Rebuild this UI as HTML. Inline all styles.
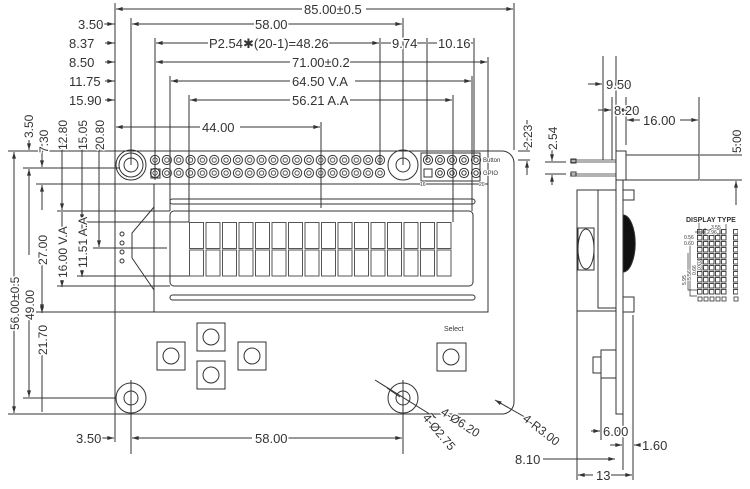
<!DOCTYPE html>
<html><head><meta charset="utf-8"><style>
html,body{margin:0;padding:0;background:#fff;width:750px;height:489px;overflow:hidden}
svg{display:block}
text{font-family:"Liberation Sans",sans-serif;fill:#333;stroke:#fff;stroke-width:3px;paint-order:stroke;stroke-linejoin:round}
.s text{stroke-width:1.5px}
</style></head><body>
<svg width="750" height="489" viewBox="0 0 750 489" xmlns="http://www.w3.org/2000/svg">
<defs>
<marker id="a" viewBox="0 0 10 6" refX="10" refY="3" markerWidth="8" markerHeight="4" orient="auto-start-reverse"><path d="M0,0L10,3L0,6z" fill="#333"/></marker>
<pattern id="pins" x="149.1" y="153" width="11.84" height="27" patternUnits="userSpaceOnUse">
<circle cx="5.92" cy="7" r="4.6" fill="none" stroke="#333" stroke-width="1"/><circle cx="5.92" cy="7" r="2.2" fill="none" stroke="#333" stroke-width="0.8"/>
<circle cx="5.92" cy="20" r="4.6" fill="none" stroke="#333" stroke-width="1"/><circle cx="5.92" cy="20" r="2.2" fill="none" stroke="#333" stroke-width="0.8"/>
</pattern>
<pattern id="chars" x="189" y="222" width="16.5" height="27.5" patternUnits="userSpaceOnUse">
<rect x="0.5" y="0.5" width="14" height="26" fill="none" stroke="#555" stroke-width="1"/>
</pattern>
<pattern id="dots" x="697" y="229" width="6" height="6" patternUnits="userSpaceOnUse">
<rect x="0.5" y="0.5" width="4.5" height="4.5" fill="none" stroke="#333" stroke-width="0.9"/>
</pattern>
</defs>
<g stroke="#333" stroke-width="1" fill="none">
<path d="M115,3V442 M8,151H502 A12,12 0 0 1 514,163V402 A12,12 0 0 1 502,414H8"/>
<line x1="514" y1="3" x2="514" y2="150"/>
<circle cx="131" cy="165" r="15"/><circle cx="131" cy="165" r="7"/>
<circle cx="131" cy="165" r="12"/>
<circle cx="403" cy="165" r="15"/><circle cx="403" cy="165" r="7"/>
<circle cx="131" cy="398" r="15"/><circle cx="131" cy="398" r="7"/>
<circle cx="403" cy="398" r="15"/><circle cx="403" cy="398" r="7"/>
<rect x="149" y="153" width="237" height="27" fill="url(#pins)" stroke="none"/>
<rect x="151" y="169" width="9" height="9"/>
<rect x="421" y="153" width="59" height="28"/>
<g>
<circle cx="428" cy="160" r="4.6"/><circle cx="440" cy="160" r="4.6"/><circle cx="452" cy="160" r="4.6"/><circle cx="464" cy="160" r="4.6"/><circle cx="476" cy="160" r="4.6"/>
<circle cx="440" cy="173" r="4.6"/><circle cx="452" cy="173" r="4.6"/><circle cx="464" cy="173" r="4.6"/><circle cx="476" cy="173" r="4.6"/>
<circle cx="440" cy="173" r="2.2"/><circle cx="452" cy="173" r="2.2"/><circle cx="464" cy="173" r="2.2"/><circle cx="476" cy="173" r="2.2"/>
<circle cx="428" cy="160" r="2.2"/><circle cx="440" cy="160" r="2.2"/><circle cx="452" cy="160" r="2.2"/><circle cx="464" cy="160" r="2.2"/><circle cx="476" cy="160" r="2.2"/>
<rect x="424" y="169" width="8" height="8"/>
</g>
<path d="M154,184H488V312H36 M154,184V312"/>
<rect x="170" y="199" width="305" height="5" rx="2.5"/>
<rect x="170" y="295" width="305" height="5" rx="2.5"/>
<rect x="170" y="211" width="303" height="75" rx="4"/>
<rect x="189" y="222" width="264" height="55" fill="url(#chars)" stroke="none"/>
<path d="M154,207L132,233V258L154,290"/>
<circle cx="122" cy="234" r="2"/><circle cx="122" cy="243" r="2"/><circle cx="122" cy="252" r="2"/><circle cx="122" cy="261" r="2"/>
<rect x="197" y="323" width="28" height="28"/><circle cx="211" cy="337" r="8"/>
<rect x="157" y="342" width="28" height="28"/><circle cx="171" cy="356" r="8"/>
<rect x="197" y="361" width="28" height="28"/><circle cx="211" cy="375" r="8"/>
<rect x="238" y="342" width="28" height="28"/><circle cx="252" cy="356" r="8"/>
<rect x="437" y="343" width="29" height="28"/><circle cx="451" cy="357" r="8"/>
<path d="M131,18V165 M155,38V180 M155,58V180 M170,76V211 M189,95V222 M321,122V208 M380,38V165 M403,18V165 M427,38V160 M474,38V160 M488,57V184 M472,76V211 M453,95V222"/>
<g marker-end="url(#a)">
<path d="M302,9H116"/><path d="M366,9H513"/>
<path d="M95,24H114"/><path d="M254,24H132"/><path d="M284,24H402"/>
<path d="M105,43H114"/><path d="M208,43H156"/><path d="M327,43H379"/>
<path d="M105,62H114"/><path d="M290,62H156"/><path d="M348,62H487"/>
<path d="M105,81H114"/><path d="M290,81H171"/><path d="M355,81H471"/>
<path d="M105,100H114"/><path d="M290,100H190"/><path d="M350,100H452"/>
<path d="M200,127H116"/><path d="M240,127H320"/>
<path d="M90,438H114"/><path d="M252,438H132"/><path d="M284,438H402"/>
</g>
<path d="M115,24H108 M115,43H106 M115,62H106 M115,81H106 M115,100H106"/>
<path d="M131,380V454 M403,380V454"/>
<path d="M381,43H391 M414,43H426 M428,43H437 M464,43H473"/>
<path d="M23,168H120 M36,184H154 M57,211H170 M77,222H189 M93,248H167 M77,276H189 M57,286H170 M23,398H116"/>
<g marker-end="url(#a)">
<path d="M14,290V152"/><path d="M14,330V413"/>
<path d="M29,255V169"/><path d="M29,320V397"/>
<path d="M42,210V185"/><path d="M42,265V311"/>
<path d="M42,290V313"/>
<path d="M62,140V210"/><path d="M62,280V287"/>
<path d="M82,140V221"/><path d="M82,270V277"/>
<path d="M99,140V247"/>
<path d="M29,140V150"/><path d="M42,140V167"/>
</g>
<path d="M42,355V412"/>
<path d="M62,212V230 M82,223V234"/>
<path d="M518,151H530 M518,160H530"/>
<path d="M527,120V150" marker-end="url(#a)"/><path d="M527,175V161" marker-end="url(#a)"/>
<path d="M375,380L436,418" marker-end="url(#a)"/>
<path d="M387,388L400,397"/>
<path d="M530,420L495,400" marker-end="url(#a)"/>
<rect x="616" y="151" width="10" height="29"/>
<rect x="626" y="155" width="73" height="25"/>
<path d="M570,162H616 M570,174H616 M570,160H616 M570,176H616" stroke-width="0.8"/>
<rect x="571" y="159" width="5" height="4"/><rect x="571" y="172" width="5" height="4"/>
<path d="M616,180V414H623V180 M577,190H616V311H577Z"/>
<rect x="598" y="190" width="18" height="118"/>
<rect x="623" y="190" width="11" height="10"/><rect x="623" y="297" width="11" height="15"/>
<path d="M623,215A12,28 0 0 1 623,272Z" fill="#111"/>
<rect x="578" y="228" width="16" height="42"/><ellipse cx="586" cy="249" rx="8" ry="20"/>
<path d="M577,311V480 M633,315V480 M623,414V470"/>
<rect x="593" y="357" width="8" height="16"/><rect x="601" y="350" width="15" height="28"/>
<path d="M601,378V440"/>
<path d="M603,56V160 M616,56V160 M612,97V160 M626,97V145 M699,97V155"/>
<g marker-end="url(#a)">
<path d="M588,84H602"/><path d="M632,84H615"/>
<path d="M598,110H611"/><path d="M640,110H617"/>
<path d="M640,120H627"/><path d="M680,120H698"/>
<path d="M591,431H600"/><path d="M620,431H615"/>
<path d="M543,459H615"/><path d="M593,475H578"/><path d="M611,475H632"/>
<path d="M610,445H622"/><path d="M640,445H634"/>
<path d="M552,150V161"/><path d="M552,185V175"/>
<path d="M736,130V154"/><path d="M736,205V181"/>
</g>
<path d="M566,162H560 M566,174H560 M545,162H560 M545,174H560"/>
<path d="M700,155H742 M700,180H742"/>
<rect x="697" y="229" width="30" height="66" fill="url(#dots)" stroke="none"/>
<rect x="733" y="229" width="5" height="66" fill="url(#dots)" stroke="none"/>
<path d="M699,233V222 M726,233V224 M705,233V228 M695,232H705" stroke-width="0.7"/>
<path d="M690,238V296H697 M688,253V290H697" stroke-width="0.7"/>
<rect x="698" y="297" width="4" height="4" stroke-width="0.8"/>
<rect x="704" y="297" width="4" height="4" stroke-width="0.8"/>
<rect x="710" y="297" width="4" height="4" stroke-width="0.8"/>
<rect x="716" y="297" width="4" height="4" stroke-width="0.8"/>
<rect x="722" y="297" width="4" height="4" stroke-width="0.8"/>
<rect x="734" y="297" width="4" height="4" stroke-width="0.8"/>
</g>
<g font-size="13">
<text x="304" y="14">85.00±0.5</text>
<text x="78" y="29">3.50</text>
<text x="255" y="29">58.00</text>
<text x="69" y="48">8.37</text>
<text x="209" y="48">P2.54✱(20-1)=48.26</text>
<text x="392" y="48">9.74</text>
<text x="438" y="48">10.16</text>
<text x="69" y="67">8.50</text>
<text x="292" y="67">71.00±0.2</text>
<text x="69" y="86">11.75</text>
<text x="292" y="86">64.50  V.A</text>
<text x="69" y="105">15.90</text>
<text x="292" y="105">56.21  A.A</text>
<text x="202" y="132">44.00</text>
<text x="76" y="443">3.50</text>
<text x="255" y="443">58.00</text>
<text x="606" y="89">9.50</text>
<text x="614" y="115">8.20</text>
<text x="643" y="125">16.00</text>
<text x="603" y="436">6.00</text>
<text x="642" y="450">1.60</text>
<text x="515" y="464">8.10</text>
<text x="596" y="480">13</text>
<g font-size="12">
<text transform="translate(33,138) rotate(-90)">3.50</text>
<text transform="translate(48,153) rotate(-90)">7.30</text>
<text transform="translate(67,150) rotate(-90)">12.80</text>
<text transform="translate(87,150) rotate(-90)">15.05</text>
<text transform="translate(104,150) rotate(-90)">20.80</text>
<text transform="translate(19,330) rotate(-90)">56.00±0.5</text>
<text transform="translate(34,320) rotate(-90)">49.00</text>
<text transform="translate(47,265) rotate(-90)">27.00</text>
<text transform="translate(47,355) rotate(-90)">21.70</text>
<text transform="translate(67,278) rotate(-90)">16.00  V.A</text>
<text transform="translate(87,268) rotate(-90)">11.51  A.A</text>
<text transform="translate(532,148) rotate(-90)">2.23</text>
<text transform="translate(557,150) rotate(-90)">2.54</text>
<text transform="translate(741,153) rotate(-90)">5.00</text>
<text transform="translate(440,414) rotate(33)">4-Ø6.20</text>
<text transform="translate(422,418) rotate(50)">4-Ø2.75</text>
<text transform="translate(522,420) rotate(38)">4-R3.00</text>
</g>
<g class="s">
<text x="444" y="331" font-size="7" font-family="Liberation Serif">Select</text>
<text x="483" y="162" font-size="6" font-family="Liberation Serif">Button</text>
<text x="483" y="175" font-size="6" font-family="Liberation Serif">GPIO</text>
<text x="420" y="186" font-size="5">16</text>
<text x="479" y="186" font-size="5">20</text>
<text x="686" y="222" font-size="7" font-family="Liberation Serif" font-weight="bold">DISPLAY TYPE</text>
<text x="711" y="229" font-size="5">3.55</text>
<text x="707" y="234" font-size="5">2.96</text>
<text x="684" y="239" font-size="5">0.56</text>
<text x="684" y="245" font-size="5">0.60</text>
<text transform="translate(686,285) rotate(-90)" font-size="5">5.95</text>
<text transform="translate(691,280) rotate(-90)" font-size="5">5.56</text>
<text transform="translate(696,275) rotate(-90)" font-size="5">0.66</text>
<text transform="translate(701,270) rotate(-90)" font-size="5">0.70</text>
</g>
</g>
</svg>
</body></html>
